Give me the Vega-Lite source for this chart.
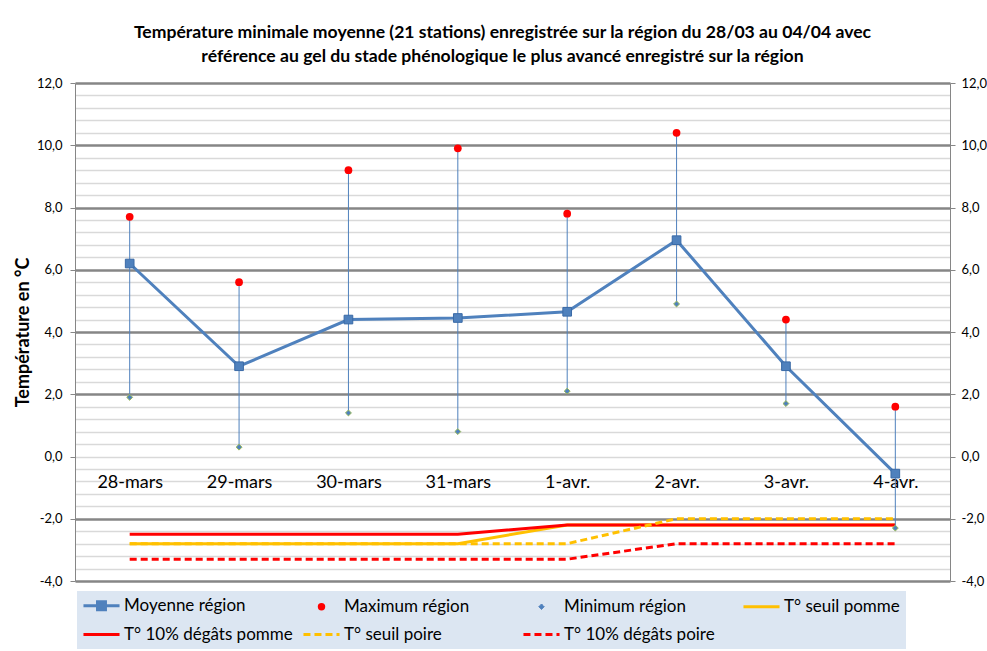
{
  "$schema": "https://vega.github.io/schema/vega-lite/v6.json",
  "width": 875,
  "height": 498,
  "autosize": {"type": "none"},
  "padding": {"left": 75, "top": 83, "right": 37, "bottom": 70},
  "background": "white",
  "config": {"font": "Lato", "view": {"stroke": null}},
  "title": {
    "text": ["Température minimale moyenne (21 stations) enregistrée sur la région du 28/03 au 04/04 avec", "référence au gel du stade phénologique le plus avancé enregistré sur la région"],
    "font": "Lato", "fontSize": 17.6, "fontWeight": "bold", "color": "black",
    "lineHeight": 24.5, "anchor": "middle", "dx": -10, "offset": 11
  },
  "data": {"values": [
    {"jour": "28-mars", "moyenne": 6.2, "maximum": 7.7, "minimum": 1.9, "seuil_pomme": -2.8, "degats_pomme": -2.5, "seuil_poire": -2.8, "degats_poire": -3.3},
    {"jour": "29-mars", "moyenne": 2.9, "maximum": 5.6, "minimum": 0.3, "seuil_pomme": -2.8, "degats_pomme": -2.5, "seuil_poire": -2.8, "degats_poire": -3.3},
    {"jour": "30-mars", "moyenne": 4.4, "maximum": 9.2, "minimum": 1.4, "seuil_pomme": -2.8, "degats_pomme": -2.5, "seuil_poire": -2.8, "degats_poire": -3.3},
    {"jour": "31-mars", "moyenne": 4.45, "maximum": 9.9, "minimum": 0.8, "seuil_pomme": -2.8, "degats_pomme": -2.5, "seuil_poire": -2.8, "degats_poire": -3.3},
    {"jour": "1-avr.", "moyenne": 4.65, "maximum": 7.8, "minimum": 2.1, "seuil_pomme": -2.2, "degats_pomme": -2.2, "seuil_poire": -2.8, "degats_poire": -3.3},
    {"jour": "2-avr.", "moyenne": 6.95, "maximum": 10.4, "minimum": 4.9, "seuil_pomme": -2.2, "degats_pomme": -2.2, "seuil_poire": -2.0, "degats_poire": -2.8},
    {"jour": "3-avr.", "moyenne": 2.9, "maximum": 4.4, "minimum": 1.7, "seuil_pomme": -2.2, "degats_pomme": -2.2, "seuil_poire": -2.0, "degats_poire": -2.8},
    {"jour": "4-avr.", "moyenne": -0.55, "maximum": 1.6, "minimum": -2.3, "seuil_pomme": -2.2, "degats_pomme": -2.2, "seuil_poire": -2.0, "degats_poire": -2.8}
  ]},
  "encoding": {
    "x": {
      "field": "jour", "type": "ordinal", "sort": null,
      "scale": {"type": "point", "padding": 0.5},
      "axis": {
        "orient": "bottom", "offset": -123.5, "title": null, "domain": false, "ticks": false, "grid": false,
        "labelAngle": 0, "labelFont": "Lato", "labelFontSize": 18, "labelColor": "black",
        "labelPadding": 16, "labelOverlap": false, "labelBound": false
      }
    }
  },
  "resolve": {"axis": {"y": "independent"}},
  "layer": [
    {
      "mark": {"type": "line", "strokeWidth": 3},
      "encoding": {
        "y": {
          "field": "seuil_pomme", "type": "quantitative",
          "scale": {"domain": [-4, 12], "nice": false, "zero": false},
          "axis": {
            "orient": "left",
            "values": [-4,-3.6,-3.2,-2.8,-2.4,-2,-1.6,-1.2,-0.8,-0.4,0,0.4,0.8,1.2,1.6,2,2.4,2.8,3.2,3.6,4,4.4,4.8,5.2,5.6,6,6.4,6.8,7.2,7.6,8,8.4,8.8,9.2,9.6,10,10.4,10.8,11.2,11.6,12],
            "grid": true,
            "gridColor": {"condition": {"test": "abs(datum.value % 2) < 0.01 && abs(datum.value) > 0.01", "value": "#868686"}, "value": "#d9d9d9"},
            "gridWidth": {"condition": {"test": "abs(datum.value % 2) < 0.01 && abs(datum.value) > 0.01", "value": 2.5}, "value": 1.5},
            "tickColor": {"condition": {"test": "abs(datum.value % 2) < 0.01", "value": "#868686"}, "value": "transparent"},
            "tickSize": 5,
            "labelExpr": "abs(datum.value % 2) < 0.01 ? (datum.value < 0 ? '-' : '') + replace(format(abs(datum.value), '.1f'), '.', ',') : ''",
            "labelFont": "Lato", "labelFontSize": 13, "labelColor": "black", "labelPadding": 8,
            "labelOverlap": false, "labelFlush": false, "labelBound": false,
            "domainColor": "#868686", "domainWidth": 1,
            "title": "Température en °C", "titleFont": "Lato", "titleFontSize": 18, "titleFontWeight": "bold",
            "titleColor": "black", "titlePadding": 4
          }
        },
        "color": {
          "datum": "T° seuil pomme",
          "scale": {
            "domain": ["Moyenne région", "T° 10% dégâts pomme", "Maximum région", "T° seuil poire", "Minimum région", "T° 10% dégâts poire", "T° seuil pomme"],
            "range": ["#4f81bd", "#ff0000", "#ff0000", "#ffc000", "#4f81bd", "#ff0000", "#ffc000"]
          },
          "legend": {
            "title": null, "orient": "none", "legendX": 2, "legendY": 508,
            "columns": 4, "gridAlign": "all", "columnPadding": 4, "rowPadding": 9,
            "padding": 6, "fillColor": "#dce6f2", "strokeColor": null,
            "symbolSize": 1300, "symbolOffset": 10, "labelOffset": 14, "labelFont": "Lato", "labelFontSize": 17,
            "labelColor": "black", "labelLimit": 300,
            "encode": {"symbols": {"update": {
              "shape": {"signal": "datum.value === 'Moyenne région' ? 'M-1,0H1M-0.22,-0.22H0.22V0.22H-0.22Z' : datum.value === 'Maximum région' ? 'circle' : datum.value === 'Minimum région' ? 'diamond' : 'stroke'"},
              "size": {"signal": "datum.value === 'Maximum région' ? 55 : datum.value === 'Minimum région' ? 30 : 1300"},
              "fill": {"signal": "datum.value === 'Moyenne région' || datum.value === 'Minimum région' ? '#4f81bd' : datum.value === 'Maximum région' ? '#ff0000' : 'transparent'"},
              "stroke": {"signal": "datum.value === 'Moyenne région' ? '#4f81bd' : datum.value === 'Minimum région' ? '#9bbb59' : datum.value === 'Maximum région' ? '#ff0000' : (indexof(datum.value, 'seuil') >= 0 ? '#ffc000' : '#ff0000')"},
              "strokeWidth": {"signal": "datum.value === 'Minimum région' ? 1 : datum.value === 'Maximum région' ? 0 : 3"},
              "strokeDash": {"signal": "indexof(datum.value, 'poire') >= 0 ? [7,4] : [1,0]"},
              "opacity": {"value": 1}
            }}}
          }
        }
      }
    },
    {
      "mark": {"type": "line", "strokeWidth": 3},
      "encoding": {
        "y": {"field": "degats_pomme", "type": "quantitative", "axis": null},
        "color": {"datum": "T° 10% dégâts pomme"}
      }
    },
    {
      "mark": {"type": "line", "strokeWidth": 3, "strokeDash": [7, 4]},
      "encoding": {
        "y": {"field": "seuil_poire", "type": "quantitative", "axis": null},
        "color": {"datum": "T° seuil poire"}
      }
    },
    {
      "mark": {"type": "line", "strokeWidth": 3, "strokeDash": [7, 4]},
      "encoding": {
        "y": {"field": "degats_poire", "type": "quantitative", "axis": null},
        "color": {"datum": "T° 10% dégâts poire"}
      }
    },
    {
      "mark": {"type": "rule", "color": "#4f81bd", "strokeWidth": 1},
      "encoding": {
        "y": {
          "field": "minimum", "type": "quantitative",
          "axis": {
            "orient": "right", "values": [-4,-2,0,2,4,6,8,10,12], "grid": false,
            "tickSize": 5, "tickColor": "#868686", "domainColor": "#868686", "domainWidth": 1,
            "labelExpr": "(datum.value < 0 ? '-' : '') + replace(format(abs(datum.value), '.1f'), '.', ',')",
            "labelFont": "Lato", "labelFontSize": 13, "labelColor": "black", "labelPadding": 6,
            "labelOverlap": false, "labelFlush": false, "labelBound": false, "title": null
          }
        },
        "y2": {"field": "maximum"}
      }
    },
    {
      "mark": {"type": "point", "shape": "diamond", "filled": true, "fill": "#4f81bd", "stroke": "#9bbb59", "strokeWidth": 1, "size": 35, "opacity": 1},
      "encoding": {"y": {"field": "minimum", "type": "quantitative", "axis": null}}
    },
    {
      "mark": {"type": "point", "shape": "circle", "filled": true, "fill": "#ff0000", "size": 60, "opacity": 1},
      "encoding": {"y": {"field": "maximum", "type": "quantitative", "axis": null}}
    },
    {
      "mark": {"type": "line", "color": "#4f81bd", "strokeWidth": 3,
        "point": {"shape": "square", "filled": true, "fill": "#4f81bd", "stroke": "#3a6aa6", "strokeWidth": 1, "size": 75, "opacity": 1}},
      "encoding": {"y": {"field": "moyenne", "type": "quantitative", "axis": null}}
    }
  ]
}
